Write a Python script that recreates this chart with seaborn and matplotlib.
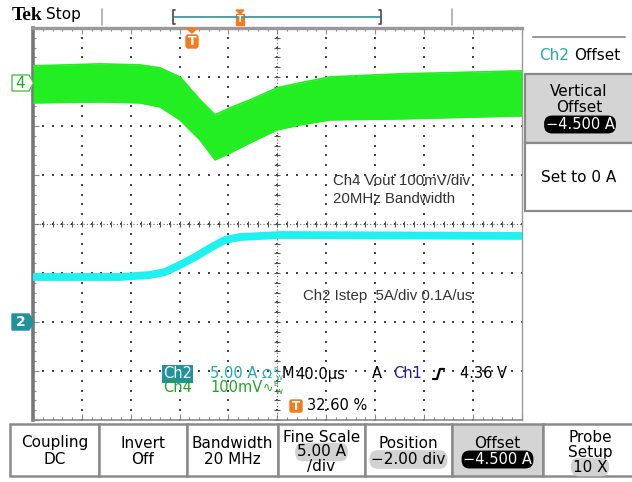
import numpy as np
import matplotlib
matplotlib.use("Agg")
import matplotlib.pyplot as plt
import seaborn as sns
from matplotlib.patches import Polygon, Rectangle, FancyBboxPatch
from matplotlib.lines import Line2D
from matplotlib.transforms import IdentityTransform

time_per_div_us = 40.0
trigger_pct = 32.60
ch2_amps_per_div = 5.0
ch2_position_div = -2.0
ch4_mv_per_div = 100.0
ch4_position_div = 2.88

# Ch4 (Vout, 20 MHz BW) ripple band: upper / lower envelope in mV vs time in us
ch4_time_us = [-130.4, -75.6, -42.8, -26.4, -10.1, 6.3, 18.6, 30.8, 47.2, 69.3, 88.1, 112.7, 170.0, 269.6]
ch4_upper_mv = [34.7, 38.8, 36.7, 30.6, 12.2, -34.7, -65.3, -51.0, -34.7, -10.2, 0.0, 12.2, 18.4, 24.5]
ch4_lower_mv = [-40.8, -38.8, -40.8, -49.0, -75.5, -116.3, -157.1, -142.9, -122.4, -95.9, -85.7, -75.5, -73.5, -67.3]

# Ch2 (Istep) current in A above the channel marker vs time in us
ch2_time_us = [-130.4, -59.2, -34.6, -22.4, -10.1, 2.2, 14.5, 26.7, 39.0, 71.8, 269.6]
ch2_current_a = [4.59, 4.59, 4.80, 5.10, 5.82, 6.63, 7.55, 8.37, 8.67, 8.88, 8.78]

bottom_menu_top = ["Coupling", "Invert", "Bandwidth", "Fine Scale", "Position", "Offset", "Probe"]
bottom_menu_bot = ["DC", "Off", "20 MHz", "5.00 A", "\u22122.00 div", "\u22124.500 A", "Setup"]

# ---------------- colours ----------------
GREEN = "#22ee22"
CYAN = "#1ff0f0"
TEAL = "#24a8ab"
TEAL_BOX = "#1e939b"
GREEN_TXT = "#26a226"
BLUE = "#1c1c98"
ORANGE = "#f57a1f"
GREY = "#8a8a8a"

sns.set_style("white")
plt.rcParams["font.family"] = ["DejaVu Sans"]

W, H = 632, 482
fig = plt.figure(figsize=(W / 100, H / 100), dpi=100)
fig.patch.set_facecolor("white")
ID = IdentityTransform()


def T(x, y, s, **kw):
    kw.setdefault("va", "center")
    kw.setdefault("ha", "left")
    return fig.text(x, H - y, s, transform=ID, **kw)


def poly(pts, **kw):
    p = Polygon([(x, H - y) for x, y in pts], closed=True, transform=ID, **kw)
    fig.add_artist(p)


def rect(x0, y0, x1, y1, **kw):
    r = Rectangle((x0, H - y1), x1 - x0, y1 - y0, transform=ID, **kw)
    fig.add_artist(r)


def line(xs, ys, **kw):
    fig.add_artist(Line2D(xs, [H - y for y in ys], transform=ID, **kw))


# ---------------- screen axes ----------------
x_left, x_right, y_top, y_bot = 33, 521.7, 28, 420
ax = fig.add_axes([x_left / W, 1 - y_bot / H, (x_right - x_left) / W, (y_bot - y_top) / H])
t0 = -trigger_pct / 100 * 10 * time_per_div_us
ax.set_xlim(t0, t0 + 10 * time_per_div_us)
ax.set_ylim((-4 - ch2_position_div) * ch2_amps_per_div, (4 - ch2_position_div) * ch2_amps_per_div)
ax.set_facecolor("white")

xmaj = t0 + time_per_div_us * np.arange(11)
xmin = t0 + time_per_div_us / 5 * np.arange(51)
ylo, yhi = ax.get_ylim()
ymaj = np.linspace(ylo, yhi, 9)
ymin = np.linspace(ylo, yhi, 41)
ax.set_xticks(xmaj)
ax.set_xticks(xmin, minor=True)
ax.set_yticks(ymaj)
ax.set_yticks(ymin, minor=True)
ax.tick_params(which="both", direction="in", top=True, right=True, bottom=True, left=True,
               labelleft=False, labelbottom=False, color="#8c8c8c", width=0.8)
ax.tick_params(which="major", length=4)
ax.tick_params(which="minor", length=2.5)
for side, lw, col in [("left", 2.6, "#777777"), ("top", 2.4, "#999999"),
                      ("right", 1.0, "#9a9a9a"), ("bottom", 1.2, "#8a8a8a")]:
    ax.spines[side].set_linewidth(lw)
    ax.spines[side].set_color(col)

# graticule dots
for x in xmaj[1:-1]:
    ax.scatter(np.full(len(ymin), x), ymin, s=1.3, marker="s", color="#444444", lw=0, zorder=1)
for y in ymaj[1:-1]:
    ax.scatter(xmin, np.full(len(xmin), y), s=1.3, marker="s", color="#444444", lw=0, zorder=1)
xc, yc = xmaj[5], ymaj[4]
ax.plot([t0, t0 + 400], [yc, yc], color="#666666", lw=0.8, ls=(0, (1, 2)), zorder=1)
ax.plot([xc, xc], [ylo, yhi], color="#666666", lw=0.8, ls=(0, (1, 2)), zorder=1)
ax.scatter(xmin, np.full(len(xmin), yc), marker="|", s=14, color="#555555", lw=0.8, zorder=1)
ax.scatter(np.full(len(ymin), xc), ymin, marker="_", s=14, color="#555555", lw=0.8, zorder=1)

# Ch2 trace (cyan)
sns.lineplot(x=ch2_time_us, y=ch2_current_a, ax=ax, color=CYAN, lw=5.6, zorder=3)

# Ch4 trace (green band) on its own scale
ax4 = ax.twinx()
ax4.set_ylim((-4 - ch4_position_div) * ch4_mv_per_div, (4 - ch4_position_div) * ch4_mv_per_div)
ax4.set_yticks([])
for s in ax4.spines.values():
    s.set_visible(False)
ax4.fill_between(ch4_time_us, ch4_lower_mv, ch4_upper_mv, color=GREEN, lw=0, zorder=3)
sns.lineplot(x=ch4_time_us, y=ch4_upper_mv, ax=ax4, color=GREEN, lw=1.2)
sns.lineplot(x=ch4_time_us, y=ch4_lower_mv, ax=ax4, color=GREEN, lw=1.2)
ax4.set_xlim(ax.get_xlim())

# ---------------- top bar ----------------
T(12, 16, "Tek", family="Liberation Serif", weight="bold", size=14, color="black")
T(46, 15, "Stop", size=11, color="black")
line([102, 102], [9, 25], color="#aaaaaa", lw=1.2)
line([452, 452], [9, 25], color="#aaaaaa", lw=1.2)
line([174, 381], [17, 17], color="#3b9c9c", lw=1.3)
line([175, 173, 173, 175], [10, 10, 24, 24], color="#555555", lw=1.3)
line([379, 381, 381, 379], [10, 10, 24, 24], color="#555555", lw=1.3)
poly([(236, 10), (244, 10), (240, 14)], color=ORANGE)
rect(236, 14, 244, 25, color=ORANGE)
T(240, 19.5, "T", ha="center", size=6.5, weight="bold", color="white")

# trigger position marker
poly([(187, 28.5), (197, 28.5), (192, 33)], color=ORANGE, zorder=5)
fig.add_artist(FancyBboxPatch((186, H - 48), 12, 13, boxstyle="round,pad=0,rounding_size=2.5",
                              transform=ID, color=ORANGE))
T(192, 41.5, "T", ha="center", size=9, weight="bold", color="white")

# channel markers
poly([(12, 75), (29, 75), (33.5, 83), (29, 91), (12, 91)], facecolor="white", edgecolor="#4cc04c", lw=1.0)
T(20.5, 83, "4", ha="center", size=11, color=GREEN_TXT)
poly([(12, 314), (29, 314), (33.5, 322), (29, 330), (12, 330)], color=TEAL_BOX)
T(20.5, 322, "2", ha="center", size=10, weight="bold", color="white")

# annotations inside the screen
T(333, 181, "Ch4 Vout 100mV/div", family="Liberation Sans", size=10.8, color="#333333")
T(333, 199, "20MHz Bandwidth", family="Liberation Sans", size=10.8, color="#333333")
T(303, 296, "Ch2 Istep  5A/div 0.1A/us", family="Liberation Sans", size=10.8, color="#333333")

# status readout
T(163, 374, "Ch2", size=10.5, color="white",
  bbox=dict(boxstyle="square,pad=0.08", fc=TEAL_BOX, ec="none"))
T(210, 374, "5.00 A", size=10.5, color=TEAL)
T(262, 374, "\u03a9", size=9.5, color=TEAL)
T(273.5, 370, "B", size=5, color=TEAL)
T(275.5, 377.5, "W", size=5, color=TEAL)
T(282, 374, "M", size=10.5, color="black")
T(295, 374, "40.0\u00b5s", size=10.5, color="black")
T(372, 374, "A", size=10.5, color="black")
T(393, 374, "Ch1", size=10.5, color=BLUE)
line([433, 437, 440, 444], [379, 379, 369, 369], color="black", lw=1.6)
T(460, 374, "4.36 V", size=10.5, color="black")
T(163, 388, "Ch4", size=10.5, color=GREEN_TXT)
T(210, 388, "100mV", size=10.5, color=GREEN_TXT)
T(263, 388, "\u223f", size=9, color=GREEN_TXT)
T(273.5, 384, "B", size=5, color=GREEN_TXT)
T(275.5, 391.5, "W", size=5, color=GREEN_TXT)
fig.add_artist(FancyBboxPatch((290, H - 412), 12, 12, boxstyle="round,pad=0,rounding_size=1.5",
                              transform=ID, color=ORANGE))
T(296, 406, "T", ha="center", size=8.5, weight="bold", color="white")
T(307, 406, "32.60 %", size=10.5, color="black")

# ---------------- right side menu ----------------
line([533, 625], [37, 37], color="#999999", lw=1.5)
T(539, 56, "Ch2", size=11, color=TEAL)
T(574, 56, "Offset", size=11, color="black")
rect(525, 74, 634, 143, facecolor="#d4d4d4", edgecolor=GREY, lw=1.6)
rect(525, 143, 634, 211, facecolor="white", edgecolor=GREY, lw=1.6)
T(579, 92, "Vertical", ha="center", size=11, color="black")
T(579, 107, "Offset", ha="center", size=11, color="black")
T(580, 124.5, "\u22124.500 A", ha="center", size=10.5, color="white",
  bbox=dict(boxstyle="round,pad=0.1,rounding_size=0.55", fc="black", ec="none"))
T(579, 178, "Set to 0 A", ha="center", size=11, color="black")

# ---------------- bottom menu ----------------
seps = [10, 99, 187, 278, 365, 452, 543, 634]
for i in range(7):
    fc = "#d4d4d4" if i == 5 else "white"
    rect(seps[i], 424, seps[i + 1], 476, facecolor=fc, edgecolor=GREY, lw=1.8)
centers = [(seps[i] + seps[i + 1]) / 2 for i in range(7)]
centers[6] = 590
pill = dict(boxstyle="round,pad=0.12,rounding_size=0.55", fc="#d2d2d2", ec="none")
for i, (a, b) in enumerate(zip(bottom_menu_top, bottom_menu_bot)):
    cx = centers[i]
    if i in (3, 6):
        T(cx, 437, a, ha="center", size=11, color="black")
        T(cx, 452, b, ha="center", size=11, color="black", bbox=pill if i == 3 else None)
    elif i == 4:
        T(cx, 443, a, ha="center", size=11, color="black")
        T(cx, 459.5, b, ha="center", size=11, color="black", bbox=pill)
    elif i == 5:
        T(cx, 443, a, ha="center", size=11, color="black")
        T(cx, 459.5, b, ha="center", size=10.5, color="white",
          bbox=dict(boxstyle="round,pad=0.1,rounding_size=0.55", fc="black", ec="none"))
    else:
        T(cx, 443, a, ha="center", size=11, color="black")
        T(cx, 459.5, b, ha="center", size=11, color="black")
T(centers[3], 467, "/div", ha="center", size=11, color="black")
T(centers[6], 467, "10 X", ha="center", size=11, color="black", bbox=pill)

fig.savefig("out.png", dpi=100, facecolor="white")
